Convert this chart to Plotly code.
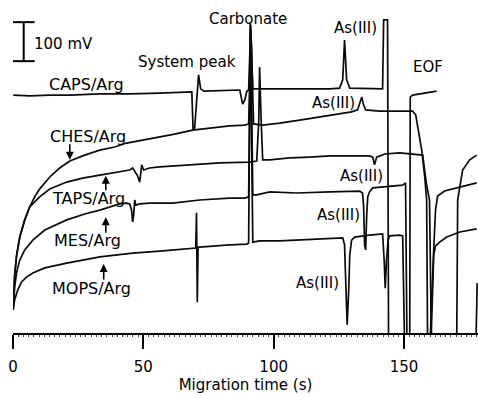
import plotly.graph_objects as go

# Migration time (s) and detector signal (mV) for each electrolyte
caps_t = [0.1, 6.4, 14.1, 21.8, 33.3, 44.8, 56.3, 67.8, 68.6, 69.1, 69.7, 71.2, 72.0, 73.2, 83.1, 87.0, 88.1, 88.9, 89.7, 90.4, 91.2, 92.0, 92.7, 102.3, 110.0, 121.5, 125.3, 126.5, 127.2, 128.0, 129.2, 136.8, 141.8, 142.2, 143.7, 144.1, 152.2, 152.4, 153.3, 157.9, 162.5]
caps_mv = [610, 608, 610, 610, 613, 613, 615, 618, 618, 520, 526, 662, 626, 620, 623, 623, 587, 597, 620, 623, 790, 626, 626, 626, 626, 626, 628, 649, 751, 649, 628, 626, 626, 803, 803, -60, -60, 605, 610, 615, 620]

ches_t = [0.1, 0.65, 1.4, 2.6, 4.5, 6.4, 8.3, 10.2, 14.1, 17.9, 21.8, 27.5, 33.3, 39.0, 43.6, 50.5, 56.3, 62.0, 68.9, 75.5, 83.1, 88.9, 90.4, 91.4, 92.3, 95.8, 102.3, 110.0, 117.6, 125.3, 129.9, 132.2, 133.4, 133.8, 134.5, 135.3, 140.7, 148.3, 153.3, 154.5, 155.6, 156.8, 157.9, 158.7, 159.1, 170.2, 170.6, 171.4, 172.5, 175.2, 177.9]
ches_mv = [59, 149, 200, 246, 290, 323, 349, 369, 400, 423, 441, 456, 469, 477, 487, 495, 503, 510, 520, 526, 531, 533, 536, 751, 536, 533, 538, 546, 554, 562, 567, 572, 600, 605, 585, 572, 569, 569, 569, 559, 520, 469, 405, 341, -60, -60, 341, 379, 418, 444, 456]

taps_t = [0.1, 0.65, 1.4, 2.6, 4.5, 6.4, 10.2, 14.1, 20.6, 26.7, 33.3, 40.9, 44.8, 45.9, 47.1, 47.8, 48.6, 49.0, 49.4, 50.1, 52.4, 56.3, 67.8, 79.3, 90.8, 93.5, 94.3, 94.6, 95.2, 95.8, 98.5, 106.1, 113.8, 121.5, 129.2, 136.8, 138.0, 138.7, 139.5, 142.6, 148.3, 154.1, 157.2, 157.9, 158.7, 159.8, 160.6, 177.5, 178.1]
taps_mv = [59, 149, 200, 246, 290, 323, 349, 369, 387, 397, 405, 413, 418, 423, 410, 403, 387, 408, 431, 418, 423, 426, 431, 436, 438, 441, 546, 682, 546, 444, 444, 449, 451, 454, 454, 454, 451, 431, 451, 459, 462, 459, 456, 418, 379, 341, -60, -60, 128]

mes_t = [0.3, 0.65, 1.4, 2.6, 4.5, 7.6, 12.2, 20.6, 27.5, 33.3, 40.9, 43.6, 44.8, 45.5, 45.9, 46.3, 46.7, 47.1, 48.6, 52.4, 61.3, 71.6, 83.1, 88.9, 90.4, 91.2, 92.0, 93.5, 98.5, 108.8, 121.5, 133.0, 134.1, 134.5, 134.9, 135.3, 135.7, 136.1, 136.8, 138.0, 149.5, 150.6, 151.2, 159.8, 161.4, 162.1, 162.9, 165.6, 171.4, 177.9]
mes_mv = [85, 118, 156, 187, 213, 238, 264, 290, 305, 315, 331, 333, 331, 315, 285, 303, 341, 328, 331, 333, 333, 341, 346, 346, 349, 777, 354, 354, 362, 359, 362, 364, 359, 328, 226, 213, 303, 349, 362, 372, 379, 385, -60, -60, 213, 315, 351, 364, 374, 385]

mops_t = [0.1, 0.65, 1.8, 3.3, 5.3, 7.6, 12.2, 20.6, 33.3, 45.9, 56.3, 68.9, 70.1, 70.4, 70.7, 71.0, 71.6, 83.1, 89.7, 90.4, 91.0, 92.0, 94.6, 102.3, 110.0, 117.6, 126.5, 127.2, 127.8, 128.2, 128.8, 129.2, 129.9, 131.1, 136.8, 141.8, 142.4, 142.8, 143.3, 143.9, 144.5, 148.3, 149.5, 150.3, 160.2, 161.4, 162.1, 163.7, 166.4, 171.4, 177.9]
mops_mv = [64, 85, 110, 131, 144, 154, 167, 179, 195, 205, 210, 218, 218, 308, 79, 220, 220, 226, 228, 231, 797, 233, 236, 236, 238, 241, 244, 226, 85, 21, 110, 200, 238, 246, 251, 254, 187, 115, 187, 238, 249, 251, 249, -60, -60, 200, 223, 233, 246, 259, 267]

x_ticks = [0, 50, 100, 150]
scale_bar_mv = 100

series = [("CAPS/Arg", caps_t, caps_mv), ("CHES/Arg", ches_t, ches_mv),
          ("TAPS/Arg", taps_t, taps_mv), ("MES/Arg", mes_t, mes_mv),
          ("MOPS/Arg", mops_t, mops_mv)]

FONT = "DejaVu Sans"
fig = go.Figure()
for name, t, mv in series:
    fig.add_trace(go.Scatter(x=t, y=mv, mode="lines", name=name,
                             line=dict(color="#0a0a0a", width=1.7),
                             showlegend=False, hoverinfo="skip"))

# scale bar (100 mV)
bar_top = 797
bar_bot = bar_top - scale_bar_mv
fig.add_shape(type="line", x0=4.1, x1=4.1, y0=bar_bot, y1=bar_top, line=dict(color="black", width=2))
fig.add_shape(type="line", x0=0, x1=8.3, y0=bar_top, y1=bar_top, line=dict(color="black", width=2))
fig.add_shape(type="line", x0=0, x1=8.3, y0=bar_bot, y1=bar_bot, line=dict(color="black", width=2))

labels = [
    ("100 mV", 7.2, 741, "left", 15),
    ("System peak", 66.6, 695, "center", 15),
    ("Carbonate", 90.0, 805, "center", 15),
    ("As(III)", 131.4, 782, "center", 15),
    ("EOF", 159.1, 682, "center", 15),
    ("As(III)", 123.0, 590, "center", 15),
    ("As(III)", 133.8, 403, "center", 15),
    ("As(III)", 124.9, 303, "center", 15),
    ("As(III)", 116.9, 128, "center", 15),
    ("CAPS/Arg", 28.3, 638, "center", 16),
    ("CHES/Arg", 28.7, 505, "center", 16),
    ("TAPS/Arg", 29.1, 346, "center", 16),
    ("MES/Arg", 28.7, 238, "center", 16),
    ("MOPS/Arg", 30.2, 113, "center", 16),
]
for txt, x, y, anc, sz in labels:
    fig.add_annotation(x=x, y=y, text=txt, showarrow=False, xanchor=anc, yanchor="middle",
                       font=dict(family=FONT, size=sz, color="black"))

arrows = [(21.8, 444, -17), (35.6, 403, 16), (35.6, 297, 17), (34.8, 177, 17)]
for x, y, ay in arrows:
    fig.add_annotation(x=x, y=y, text="", showarrow=True, ax=0, ay=ay,
                       arrowhead=2, arrowsize=1, arrowwidth=1.6, arrowcolor="black")

fig.update_layout(
    width=478, height=396,
    margin=dict(l=13, r=0, t=0, b=63),
    paper_bgcolor="white", plot_bgcolor="white",
    font=dict(family=FONT, size=15, color="black"),
    xaxis=dict(range=[0, 178.4], showgrid=False, zeroline=False, showline=True,
               linecolor="black", linewidth=1.5, ticks="outside", ticklen=14,
               tickwidth=1.5, tickcolor="black", tickvals=x_ticks,
               tickfont=dict(family=FONT, size=15), ticklabelstandoff=5,
               minor=dict(ticks="outside", ticklen=2, dtick=2, tickcolor="#444", tickwidth=1),
               title=dict(text="Migration time (s)", font=dict(family=FONT, size=15), standoff=1)),
    yaxis=dict(range=[0, 853.8], visible=False, showgrid=False, zeroline=False),
)
fig.write_html("out.html", config={"displayModeBar": False},
               post_script="document.body.style.margin='0';document.body.style.overflow='hidden';")
